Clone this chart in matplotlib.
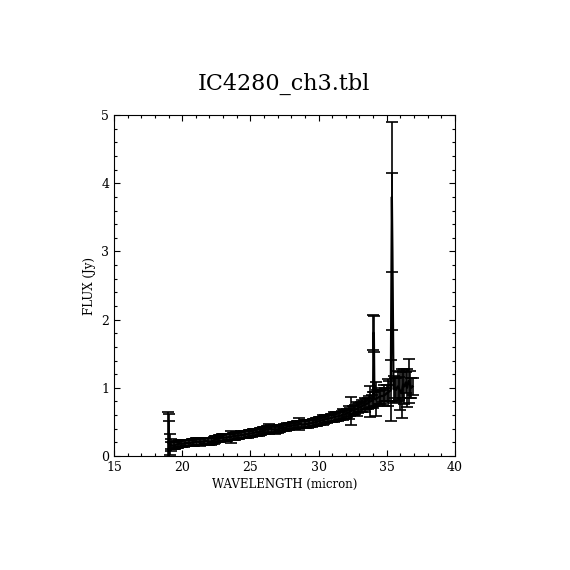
import matplotlib
matplotlib.use("Agg")
import matplotlib.pyplot as plt
from matplotlib.ticker import MultipleLocator

# wavelength (micron)
wave = [18.95, 19.0, 19.05, 19.1, 19.15, 19.2, 19.3, 19.4, 19.5, 19.6, 19.7, 19.8, 19.9,
        20.0, 20.1, 20.2, 20.3, 20.4, 20.5, 20.6, 20.7, 20.8, 20.9,
        21.0, 21.1, 21.2, 21.3, 21.4, 21.5, 21.6, 21.7, 21.8, 21.9,
        22.0, 22.1, 22.2, 22.3, 22.4, 22.5, 22.6, 22.7, 22.8, 22.9,
        23.0, 23.1, 23.2, 23.3, 23.4, 23.5, 23.6, 23.7, 23.8, 23.9,
        24.0, 24.1, 24.2, 24.3, 24.4, 24.5, 24.6, 24.7, 24.8, 24.9,
        25.0, 25.1, 25.2, 25.3, 25.4, 25.5, 25.6, 25.7, 25.8, 25.9,
        26.0, 26.1, 26.2, 26.3, 26.4, 26.5, 26.6, 26.7, 26.8, 26.9,
        27.0, 27.1, 27.2, 27.3, 27.4, 27.5, 27.6, 27.7, 27.8, 27.9,
        28.0, 28.1, 28.2, 28.3, 28.4, 28.5, 28.6, 28.7, 28.8, 28.9,
        29.0, 29.1, 29.2, 29.3, 29.4, 29.5, 29.6, 29.7, 29.8, 29.9,
        30.0, 30.1, 30.2, 30.3, 30.4, 30.5, 30.6, 30.7, 30.8, 30.9,
        31.0, 31.1, 31.2, 31.3, 31.4, 31.5, 31.6, 31.7, 31.8, 31.9,
        32.0, 32.1, 32.2, 32.3, 32.4, 32.5, 32.6, 32.7, 32.8, 32.9,
        33.0, 33.1, 33.2, 33.3, 33.4, 33.5, 33.6, 33.7, 33.8, 33.9,
        34.0, 34.03, 34.06,
        34.1, 34.2, 34.3, 34.4, 34.5, 34.6, 34.7, 34.8, 34.9, 35.0, 35.1, 35.2, 35.3,
        35.38, 35.42,
        35.5, 35.6, 35.7, 35.8, 35.9, 36.0, 36.1, 36.2, 36.3, 36.4, 36.5, 36.6, 36.7, 36.8, 36.9]

# flux (Jy)
flux = [0.20, 0.19, 0.18, 0.17, 0.16, 0.16, 0.15, 0.15, 0.16, 0.17, 0.17, 0.18, 0.18,
        0.18, 0.18, 0.19, 0.19, 0.19, 0.19, 0.19, 0.20, 0.20, 0.20,
        0.21, 0.21, 0.21, 0.20, 0.21, 0.21, 0.21, 0.22, 0.22, 0.21,
        0.21, 0.21, 0.22, 0.23, 0.24, 0.25, 0.25, 0.26, 0.26, 0.27,
        0.27, 0.27, 0.27, 0.27, 0.28, 0.28, 0.28, 0.29, 0.29, 0.29,
        0.30, 0.30, 0.30, 0.31, 0.31, 0.31, 0.32, 0.32, 0.32, 0.33,
        0.33, 0.33, 0.34, 0.34, 0.35, 0.35, 0.35, 0.36, 0.36, 0.37,
        0.37, 0.38, 0.39, 0.39, 0.40, 0.40, 0.39, 0.39, 0.38, 0.39,
        0.39, 0.40, 0.40, 0.41, 0.41, 0.42, 0.42, 0.43, 0.43, 0.44,
        0.44, 0.45, 0.45, 0.45, 0.46, 0.46, 0.47, 0.47, 0.46, 0.46,
        0.47, 0.47, 0.47, 0.48, 0.48, 0.48, 0.49, 0.49, 0.50, 0.50,
        0.51, 0.51, 0.52, 0.53, 0.53, 0.54, 0.54, 0.55, 0.55, 0.56,
        0.56, 0.57, 0.57, 0.58, 0.58, 0.59, 0.59, 0.60, 0.61, 0.61,
        0.62, 0.63, 0.64, 0.65, 0.66, 0.67, 0.67, 0.68, 0.69, 0.70,
        0.71, 0.72, 0.73, 0.74, 0.75, 0.76, 0.77, 0.79, 0.80, 0.81,
        0.82, 1.81, 1.79,
        0.84, 0.83, 0.85, 0.86, 0.87, 0.88, 0.88, 0.89, 0.90, 0.92, 0.93, 0.95, 0.96,
        3.80, 3.00,
        0.98, 1.00, 0.97, 1.02, 0.99, 0.95, 0.92, 1.05, 1.02, 1.08, 1.00, 1.10, 1.05, 1.00, 1.02]

# 1-sigma error (Jy)
err = [0.45, 0.42, 0.33, 0.15, 0.09, 0.05, 0.05, 0.05, 0.05, 0.05, 0.05, 0.05, 0.05,
       0.05, 0.05, 0.05, 0.05, 0.05, 0.05, 0.05, 0.05, 0.05, 0.05,
       0.05, 0.05, 0.05, 0.05, 0.05, 0.05, 0.05, 0.05, 0.05, 0.05,
       0.05, 0.05, 0.05, 0.05, 0.05, 0.05, 0.05, 0.05, 0.05, 0.05,
       0.05, 0.05, 0.05, 0.05, 0.05, 0.05, 0.09, 0.05, 0.05, 0.05,
       0.05, 0.05, 0.05, 0.05, 0.05, 0.05, 0.05, 0.05, 0.05, 0.05,
       0.05, 0.05, 0.05, 0.05, 0.05, 0.05, 0.05, 0.05, 0.05, 0.05,
       0.05, 0.05, 0.05, 0.05, 0.07, 0.05, 0.05, 0.05, 0.05, 0.05,
       0.05, 0.05, 0.05, 0.05, 0.05, 0.05, 0.05, 0.05, 0.05, 0.05,
       0.05, 0.05, 0.05, 0.05, 0.05, 0.05, 0.09, 0.05, 0.05, 0.05,
       0.055, 0.055, 0.055, 0.055, 0.055, 0.055, 0.055, 0.055, 0.055, 0.055,
       0.055, 0.055, 0.055, 0.07, 0.055, 0.055, 0.055, 0.055, 0.055, 0.055,
       0.06, 0.07, 0.06, 0.06, 0.06, 0.06, 0.06, 0.06, 0.08, 0.06,
       0.06, 0.06, 0.09, 0.06, 0.20, 0.06, 0.07, 0.07, 0.10, 0.07,
       0.07, 0.07, 0.09, 0.07, 0.10, 0.07, 0.08, 0.09, 0.23, 0.09,
       0.12, 0.26, 0.26,
       0.10, 0.25, 0.12, 0.09, 0.10, 0.12, 0.09, 0.15, 0.10, 0.12, 0.20, 0.15, 0.45,
       1.10, 1.15,
       0.20, 0.15, 0.18, 0.22, 0.17, 0.28, 0.36, 0.20, 0.25, 0.15, 0.28, 0.32, 0.20, 0.15, 0.12]

title = "IC4280_ch3.tbl"

plt.rcParams["font.family"] = "DejaVu Serif"

fig = plt.figure(figsize=(5.7, 5.7), dpi=100)
ax = fig.add_axes([0.2, 0.2, 0.598, 0.598])

ax.plot(wave, flux, color="black", lw=1.6)
ax.errorbar(wave, flux, yerr=err, fmt="none", ecolor="black",
            elinewidth=1.2, capsize=4.3, capthick=1.2)

ax.set_xlim(15, 40)
ax.set_ylim(0, 5)
ax.xaxis.set_major_locator(MultipleLocator(5))
ax.xaxis.set_minor_locator(MultipleLocator(1))
ax.yaxis.set_major_locator(MultipleLocator(1))
ax.yaxis.set_minor_locator(MultipleLocator(0.2))
ax.tick_params(which="both", direction="in", top=True, right=True,
               labelsize=9, width=0.8)
ax.tick_params(which="major", length=4.5)
ax.tick_params(which="minor", length=2.2)
for s in ax.spines.values():
    s.set_linewidth(0.8)

ax.set_xlabel("WAVELENGTH (micron)", fontsize=8.5, labelpad=3)
ax.set_ylabel("FLUX (Jy)", fontsize=8.5, labelpad=4)
ax.set_title(title, fontsize=16, pad=18)

fig.savefig("out.png", dpi=100)
